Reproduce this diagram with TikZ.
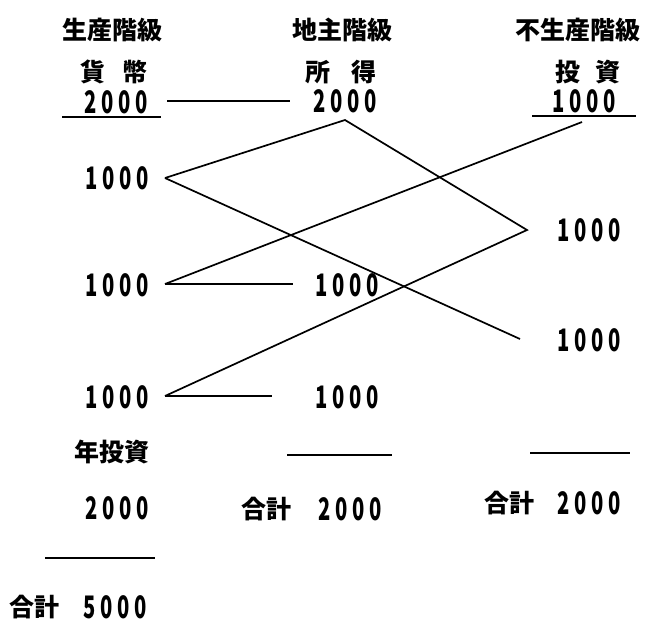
\documentclass[tikz,border=0pt]{standalone}
\usepackage{fontspec}
\newfontfamily\jpfont{Noto Sans CJK JP}
\newfontfamily\numfont{Noto Sans CJK JP}[LetterSpace=24]
\begin{document}
\begin{tikzpicture}[x=1pt,y=-1pt,
  jp/.style={font=\jpfont\bfseries\fontsize{25}{27}\selectfont, inner sep=0pt},
  num/.style={font=\numfont\bfseries\fontsize{31}{33}\selectfont, inner sep=0pt, xscale=0.65},
  ln/.style={line width=1.7pt}]
\useasboundingbox (0,0) rectangle (651,630);
% headings
\node[jp] (h1) at (112,30) {生産階級};
\node[jp] (h2) at (342,30) {地主階級};
\node[jp] (h3) at (578,30) {不生産階級};
\node[jp] (s1) at (114,72) {貨\hspace{0.7em}幣};
\node[jp] (s2) at (341,72) {所\hspace{0.85em}得};
\node[jp] (s3) at (588,72) {投\hspace{0.6em}資};
\node[num] (a1) at (116,102) {2000};
\node[num] (a2) at (345,101) {2000};
\node[num] (a3) at (584,101) {1000};
\coordinate (u1l) at (62,117); \coordinate (u1r) at (161,117);
\coordinate (u3l) at (532,116); \coordinate (u3r) at (636,116);
\draw[ln] (u1l) -- (u1r);
\draw[ln] (u3l) -- (u3r);
\coordinate (t1) at (167,101); \coordinate (t2) at (290,101);
\draw[ln] (t1) -- (t2);
% left column
\node[num] (l1) at (117,178) {1000};
\node[num] (l2) at (117,285) {1000};
\node[num] (l3) at (117,397) {1000};
% middle
\node[num] (m2) at (347,285) {1000};
\node[num] (m3) at (347,397) {1000};
% right
\node[num] (r1) at (589,230) {1000};
\node[num] (r2) at (589,340) {1000};
% vertices
\coordinate (v1) at (165,178);
\coordinate (v2) at (165,284);
\coordinate (v3) at (165,396);
\coordinate (p) at (345,120);
\coordinate (q) at (527,230);
\coordinate (e1) at (520,339);
\coordinate (e2) at (582,122);
\coordinate (h2e) at (293,284);
\coordinate (h3e) at (272,396);
\draw[ln] (v1) -- (p) -- (q) -- (v3);
\draw[ln] (v1) -- (e1);
\draw[ln] (v2) -- (e2);
\draw[ln] (v2) -- (h2e);
\draw[ln] (v3) -- (h3e);
% bottom
\node[jp] (y1) at (112,452) {年投資};
\node[num] (b1) at (117,508) {2000};
\coordinate (u4l) at (45,558); \coordinate (u4r) at (155,558);
\draw[ln] (u4l) -- (u4r);
\node[jp,anchor=west] (g1k) at (9,607) {合計};
\node[num,anchor=west] (g1) at (83,607) {5000};
\coordinate (u5l) at (287,455); \coordinate (u5r) at (392,455);
\draw[ln] (u5l) -- (u5r);
\node[jp,anchor=west] (g2k) at (241,509) {合計};
\node[num,anchor=west] (g2) at (318,509) {2000};
\coordinate (u6l) at (530,453); \coordinate (u6r) at (630,453);
\draw[ln] (u6l) -- (u6r);
\node[jp,anchor=west] (g3k) at (484,503) {合計};
\node[num,anchor=west] (g3) at (557,503) {2000};
\end{tikzpicture}
\end{document}
